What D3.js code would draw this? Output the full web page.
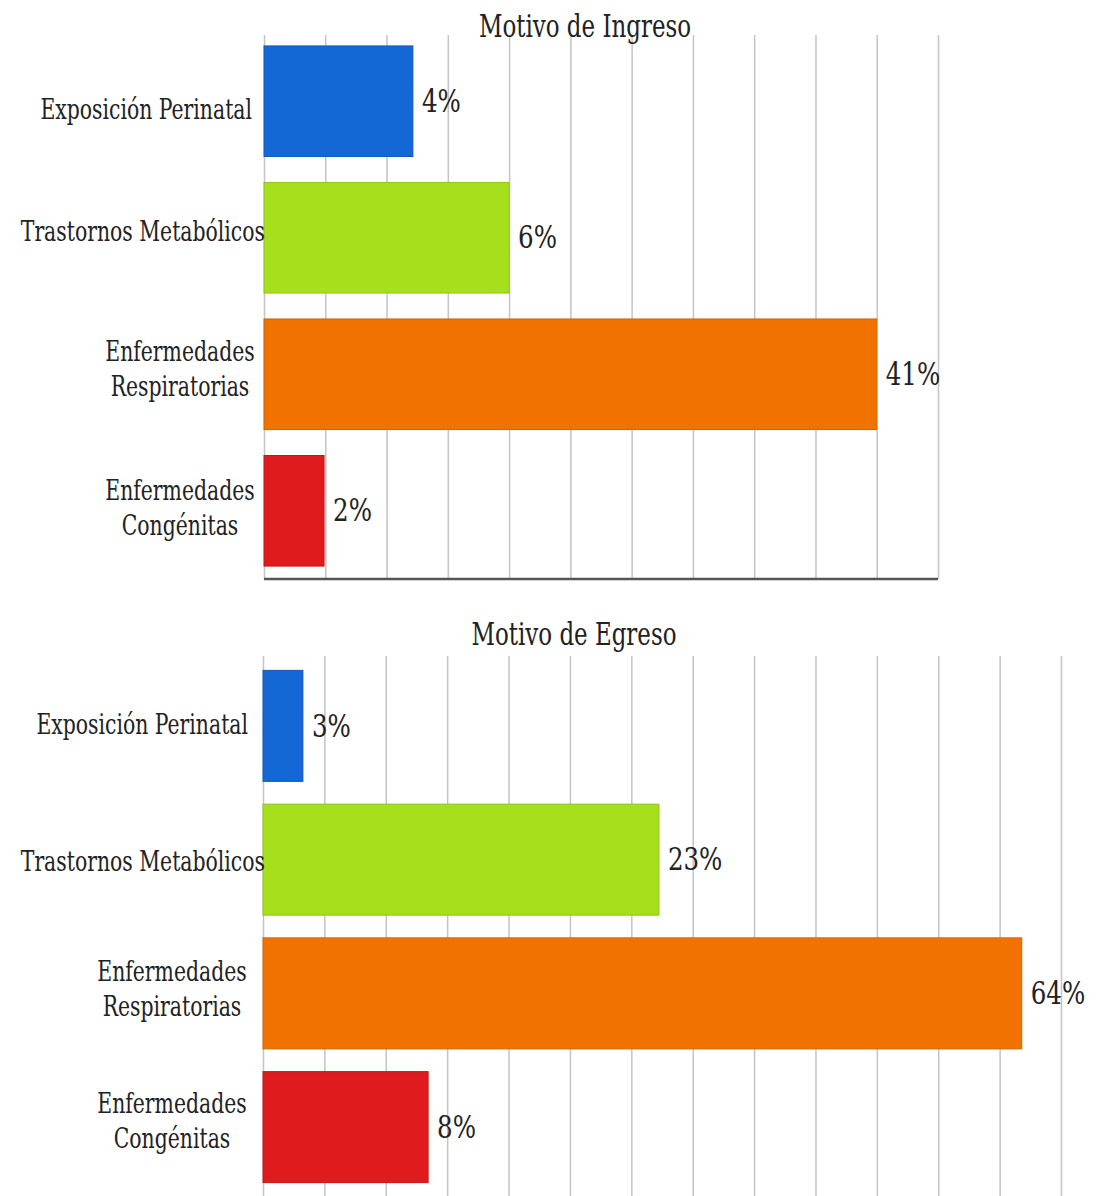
<!DOCTYPE html>
<html>
<head>
<meta charset="utf-8">
<script src="https://cdn.jsdelivr.net/npm/d3@7"></script>
<style>
  html, body { margin: 0; padding: 0; background: #ffffff; }
  svg { display: block; }
</style>
</head>
<body>
<svg id="chart" width="1099" height="1196"></svg>
<script>
// ---- data ----
const categories = ["Exposición Perinatal", "Trastornos Metabólicos", "Enfermedades\nRespiratorias", "Enfermedades\nCongénitas"];
const colors = ["#1468d6", "#a6e01c", "#f27200", "#e01b1e"];

// bar lengths in grid units (as drawn), and the printed labels
const ingresoValues = [2.43, 4.0, 10.0, 0.98];
const ingresoLabels = ["4%", "6%", "41%", "2%"];
const ingresoTicks = [0, 1, 2, 3, 4, 5, 6, 7, 8, 9, 10, 11];

const egresoValues = [0.65, 6.45, 12.36, 2.69];
const egresoLabels = ["3%", "23%", "64%", "8%"];
const egresoTicks = [0, 1, 2, 3, 4, 5, 6, 7, 8, 9, 10, 11, 12, 13];

const FONT = "'DejaVu Serif Condensed', 'DejaVu Serif', 'Liberation Serif', 'Times New Roman', serif";
const svg = d3.select("#chart");

function scaledText(g, x, y, str, size, sx, sy, anchor) {
  return g.append("text")
    .attr("transform", `translate(${x},${y}) scale(${sx},${sy})`)
    .attr("text-anchor", anchor)
    .attr("dominant-baseline", "central")
    .attr("font-family", FONT)
    .attr("font-size", size)
    .attr("fill", "#222")
    .text(str);
}

function drawPanel(cfg) {
  const g = svg.append("g");
  const x = d3.scaleLinear().domain([0, d3.max(cfg.ticks)]).range([cfg.x0, cfg.x1]);
  const y = d3.scaleBand().domain(categories).range([cfg.y0, cfg.y1])
    .paddingInner(cfg.pi).paddingOuter(cfg.po);

  const grid = g.append("g")
    .attr("transform", `translate(0,${cfg.gridBottom})`)
    .call(d3.axisBottom(x).tickValues(cfg.ticks).tickSize(-(cfg.gridBottom - cfg.gridTop)).tickFormat(""));
  grid.select(".domain").remove();
  grid.selectAll(".tick line").attr("stroke", "#c4c4c4").attr("stroke-width", 1.5);

  if (cfg.baseline) {
    g.append("line")
      .attr("x1", x(0)).attr("x2", x(d3.max(cfg.ticks)))
      .attr("y1", cfg.gridBottom).attr("y2", cfg.gridBottom)
      .attr("stroke", "#555").attr("stroke-width", 2.5);
  }

  g.selectAll("rect.bar").data(cfg.values).join("rect")
    .attr("class", "bar")
    .attr("x", x(0))
    .attr("y", (d, i) => y(categories[i]))
    .attr("width", d => x(d) - x(0))
    .attr("height", y.bandwidth())
    .attr("fill", (d, i) => colors[i])
    .attr("stroke", (d, i) => d3.color(colors[i]).darker(0.4))
    .attr("stroke-width", 1);

  cfg.values.forEach((v, i) => {
    scaledText(g, x(v) + 9, y(categories[i]) + y.bandwidth() / 2, cfg.labels[i], 25, 1.09, 1.25, "start");
  });

  categories.forEach((c, i) => {
    const lines = c.split("\n");
    const cy = y(c) + y.bandwidth() / 2 + cfg.labelDy[i];
    if (lines.length === 1) {
      scaledText(g, cfg.labelEnd[i], cy, lines[0], 22, 1.03, 1.3, "end");
    } else {
      lines.forEach((ln, j) => {
        scaledText(g, cfg.labelMid, cy + (j - (lines.length - 1) / 2) * 35, ln, 22, 1.03, 1.3, "middle");
      });
    }
  });

  scaledText(g, cfg.titleX, cfg.titleY, cfg.title, 25, 1.02, 1.25, "middle");
}

drawPanel({
  title: "Motivo de Ingreso", titleX: 585, titleY: 27,
  values: ingresoValues, labels: ingresoLabels, ticks: ingresoTicks,
  x0: 264, x1: 938, y0: 35, y1: 577, pi: 0.19, po: 0.08,
  gridTop: 35, gridBottom: 579, baseline: true,
  labelEnd: [252, 265], labelMid: 180, labelDy: [8, -7, -6, -3]
});

drawPanel({
  title: "Motivo de Egreso", titleX: 574, titleY: 635,
  values: egresoValues, labels: egresoLabels, ticks: egresoTicks,
  x0: 263, x1: 1061, y0: 657, y1: 1196, pi: 0.17, po: 0.1,
  gridTop: 656, gridBottom: 1196, baseline: false,
  labelEnd: [248, 265], labelMid: 172, labelDy: [-2, 1, -5, -7]
});
</script>
</body>
</html>
